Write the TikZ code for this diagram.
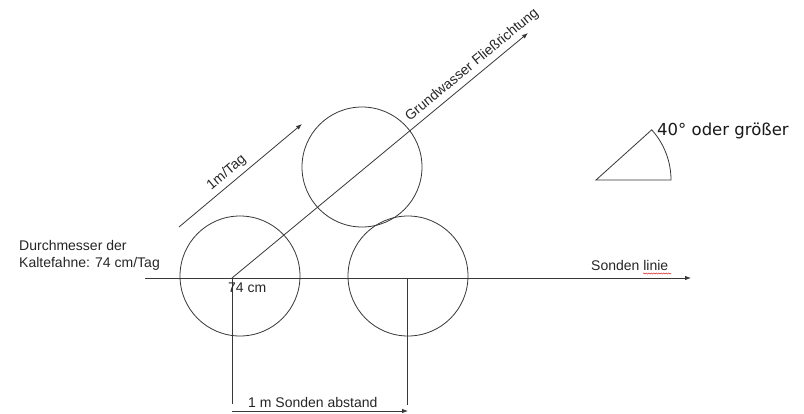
\documentclass[tikz,border=0pt]{standalone}
\usepackage{fontspec}
\setmainfont{Liberation Sans}
\newfontfamily\dvfont{DejaVu Sans}
\usetikzlibrary{arrows.meta,decorations.pathmorphing}
\begin{document}
\begin{tikzpicture}[x=1pt,y=-1pt,
  ln/.style={draw=black!78, line width=0.8pt},
  arr/.style={ln,-{Latex[length=6pt,width=4.5pt]}},
  ring/.style={circle, draw=black!78, line width=0.8pt, minimum size=120pt, inner sep=0pt},
  lbl/.style={font=\fontsize{14}{16}\selectfont, text=black!85, inner sep=0pt}]
\useasboundingbox[fill=white] (0,0) rectangle (804,413);

% circles
\node[ring] (c1) at (240,276) {};
\node[ring] (c2) at (362,167) {};
\node[ring] (c3) at (408,276) {};

% key points
\coordinate (o) at (232,278);
\coordinate (gw) at (528,33);
\coordinate (sS) at (145,278);
\coordinate (sE) at (691,278);
\coordinate (p1) at (407,278);
\coordinate (v0) at (232,404);
\coordinate (v1) at (407,405);
\coordinate (a0) at (232,411);
\coordinate (a1) at (408,411);
\coordinate (t0) at (179,227);
\coordinate (t1) at (302,124);

% Sonden linie
\draw[arr] (sS) -- (sE);
% groundwater direction
\draw[arr] (o) -- (gw) node[lbl, sloped, above=4pt, pos=0.835] (gwl) {Grundwasser Fließrichtung};
% 1m/Tag arrow
\draw[arr] (t0) -- (t1) node[lbl, sloped, above=4pt, pos=0.445] (tl) {1m/Tag};
% verticals and distance arrow
\draw[ln] (o) -- (v0);
\draw[ln] (p1) -- (v1);
\draw[arr] (a0) -- (a1);

% labels
\node[lbl, anchor=base west] (d1) at (19,250) {Durchmesser der};
\node[lbl, anchor=base west] (d2) at (19,267) {Kaltefahne: 74 cm/Tag};
\node[lbl, anchor=base west] (cm) at (228,292) {74 cm};
\node[lbl, anchor=base west] (sa) at (248,407) {1 m Sonden abstand};
\node[lbl, anchor=base west] (sl) at (591,270) {Sonden linie};
\draw[red!80!black, line width=0.4pt, decorate, decoration={snake, amplitude=0.6pt, segment length=2.5pt}] (643,273.5) -- (671,273.5);

% angle sector
\coordinate (ap) at (596,180);
\draw[ln] (ap) -- ++(75,0) arc[start angle=0, end angle=42, radius=75pt] -- cycle;
\node[font=\dvfont\fontsize{16.5}{18}\selectfont, text=black!90, inner sep=0pt, anchor=base west] (ang) at (657,135) {40° oder größer};
\end{tikzpicture}
\end{document}
